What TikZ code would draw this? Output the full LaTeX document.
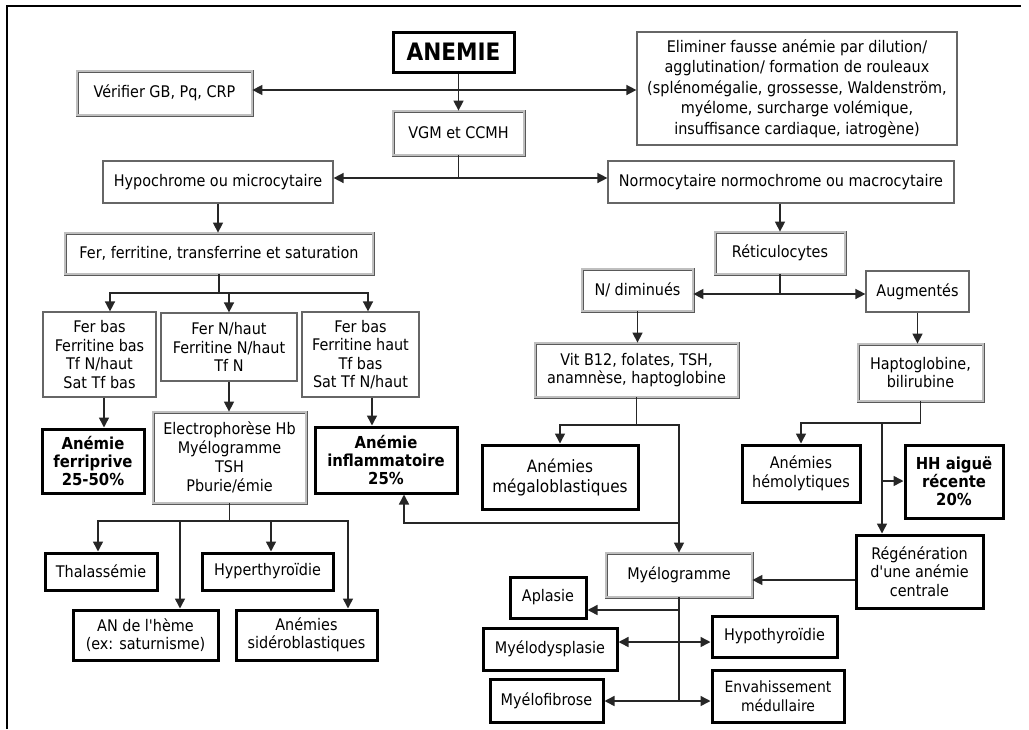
\documentclass[tikz,border=0pt]{standalone}
\usepackage{fontspec}
\setmainfont{DejaVu Sans Condensed}[Ligatures=TeXOff]
\usetikzlibrary{arrows.meta}

\begin{document}
\begin{tikzpicture}[x=1pt, y=-1pt,
    base/.style={font=\fontsize{16}{18.5}\selectfont, text=black, align=center, inner sep=2pt, fill=white},
    plain/.style={base, draw=black!60, line width=1.2pt},
    dbl/.style={base, draw=black!65, line width=0.8pt, double=black!25, double distance=1.4pt},
    heavy/.style={base, draw=black, line width=3pt},
    bf/.style={font=\fontsize{16.5}{18}\selectfont\bfseries},
    arr/.style={-{Triangle[length=10pt,width=10pt]}, line width=1.5pt, draw=black!85},
    link/.style={line width=1.5pt, draw=black!85}]
    \useasboundingbox (0,0) rectangle (1029,729);
    \draw[line width=1.5pt] (7,729) -- (7,6) -- (1021,6);
		% top
		\node [heavy, font=\fontsize{24}{26}\selectfont\bfseries, minimum width=121, minimum height=40] (anemie) at (453.5,52) {ANEMIE};
		\node [dbl, minimum width=175, minimum height=44] (verif) at (164.5,93) {Vérifier GB, Pq, CRP};
		\node [plain, minimum width=320, minimum height=113, font=\fontsize{16}{20.5}\selectfont] (elim) at (797,88.5) {Eliminer fausse anémie par dilution/\\agglutination/ formation de rouleaux\\(splénomégalie, grossesse, Waldenström,\\myélome, surcharge volémique,\\insuffisance cardiaque, iatrogène)};
		\node [dbl, minimum width=131, minimum height=44] (vgm) at (458.5,133) {VGM et CCMH};
		\node [plain, minimum width=230, minimum height=42] (hypo) at (218,182) {Hypochrome ou microcytaire};
		\node [plain, minimum width=346, minimum height=42] (normo) at (781,182) {Normocytaire normochrome ou macrocytaire};
		% left branch
		\node [dbl, minimum width=308, minimum height=41] (fer) at (219,253.5) {Fer, ferritine, transferrine et saturation};
		\node [plain, minimum width=113, minimum height=85] (bil1) at (99.5,354.5) {Fer bas\\Ferritine bas\\Tf N/haut\\Sat Tf bas};
		\node [plain, minimum width=136, minimum height=68] (bil2) at (229,347) {Fer N/haut\\Ferritine N/haut\\Tf N};
		\node [plain, minimum width=117, minimum height=85] (bil3) at (360.5,354.5) {Fer bas\\Ferritine haut\\Tf bas\\Sat Tf N/haut};
		\node [heavy, bf, minimum width=102, minimum height=64] (ferri) at (93,461) {Anémie\\ferriprive\\25-50\%};
		\node [dbl, minimum width=153, minimum height=91, font=\fontsize{16}{19}\selectfont] (electro) at (229.5,457.5) {Electrophorèse Hb\\Myélogramme\\TSH\\Pburie/émie};
		\node [heavy, bf, minimum width=142, minimum height=66] (inflam) at (386,460) {Anémie\\inflammatoire\\25\%};
		\node [heavy, minimum width=112, minimum height=37] (thal) at (101,571.5) {Thalassémie};
		\node [heavy, minimum width=131, minimum height=37] (hyper) at (267.5,571.5) {Hyperthyroïdie};
		\node [heavy, minimum width=145, minimum height=50] (heme) at (145.5,635) {AN de l'hème\\(ex: saturnisme)};
		\node [heavy, minimum width=141, minimum height=50] (sidero) at (306.5,635) {Anémies\\sidéroblastiques};
		% right branch
		\node [dbl, minimum width=130, minimum height=42] (retic) at (780,253) {Réticulocytes};
		\node [dbl, minimum width=111, minimum height=42] (ndim) at (637.5,290) {N/ diminués};
		\node [plain, minimum width=103, minimum height=41] (augm) at (917.5,291.5) {Augmentés};
		\node [dbl, minimum width=203, minimum height=54] (vitb) at (636.5,370) {Vit B12, folates, TSH,\\anamnèse, haptoglobine};
		\node [dbl, minimum width=125, minimum height=57] (hapto) at (920.5,372.5) {Haptoglobine,\\bilirubine};
		\node [heavy, minimum width=156, minimum height=64, font=\fontsize{17}{20}\selectfont] (megalo) at (560,477) {Anémies\\mégaloblastiques};
		\node [heavy, minimum width=118, minimum height=57] (hemol) at (801,473.5) {Anémies\\hémolytiques};
		\node [heavy, bf, minimum width=98, minimum height=73] (hh) at (954,481.5) {HH aiguë\\récente\\20\%};
		\node [heavy, minimum width=127, minimum height=73] (regen) at (919.5,571.5) {Régénération\\d'une anémie\\centrale};
		\node [dbl, minimum width=146, minimum height=44] (myelo) at (679,575) {Myélogramme};
		\node [heavy, minimum width=76, minimum height=41] (aplasie) at (548,597.5) {Aplasie};
		\node [heavy, minimum width=134, minimum height=42] (dysp) at (550,649) {Myélodysplasie};
		\node [heavy, minimum width=125, minimum height=41] (hypot) at (774.5,636.5) {Hypothyroïdie};
		\node [heavy, minimum width=113, minimum height=43] (fibro) at (546.5,700.5) {Myélofibrose};
		\node [heavy, minimum width=132, minimum height=52, font=\fontsize{15.5}{18.5}\selectfont] (envah) at (778,696) {Envahissement\\médullaire};
		% junctions
		\coordinate (j1) at (458.5,90);
		\coordinate (j2) at (458.5,178);
		\coordinate (j3) at (219,293);
		\coordinate (j4) at (229.5,521);
		\coordinate (j5) at (780,294);
		\coordinate (j6) at (636.5,425);
		\coordinate (j7) at (679,523);
		\coordinate (j8) at (920.5,423);
		\coordinate (j9) at (882,481);
		\coordinate (j10) at (679,701);
		\coordinate (ka) at (679,610);
		\coordinate (kb) at (679,642);
		% connectors, top
		\draw [arr] (anemie.south -| vgm.north) to (vgm.north);
		\draw [arr] (j1) to (verif.east |- j1);
		\draw [arr] (j1) to (elim.west |- j1);
		\draw [link] (vgm.south) to (j2);
		\draw [arr] (j2) to (hypo.east |- j2);
		\draw [arr] (j2) to (normo.west |- j2);
		% connectors, left
		\draw [arr] (hypo.south) to (hypo.south |- fer.north);
		\draw [link] (fer.south) to (j3);
		\draw [arr] (j3) -| ([xshift=10.5pt]bil1.north);
		\draw [arr] (j3) -| (bil2.north);
		\draw [arr] (j3) -| ([xshift=7.5pt]bil3.north);
		\draw [arr] ([xshift=4.5pt]bil1.south) to ([xshift=4.5pt]bil1.south |- ferri.north);
		\draw [arr] (bil2.south) to (bil2.south |- electro.north);
		\draw [arr] ([xshift=11.5pt]bil3.south) to ([xshift=11.5pt]bil3.south |- inflam.north);
		\draw [link] (electro.south) to (j4);
		\draw [arr] (j4) -| ([xshift=-3pt]thal.north);
		\draw [arr] (j4) -| ([xshift=34.5pt]heme.north);
		\draw [arr] (j4) -| ([xshift=3.5pt]hyper.north);
		\draw [arr] (j4) -| ([xshift=41.5pt]sidero.north);
		% connectors, right
		\draw [arr] (retic.north |- normo.south) to (retic.north);
		\draw [link] (retic.south) to (j5);
		\draw [arr] (j5) to (ndim.east |- j5);
		\draw [arr] (j5) to (augm.west |- j5);
		\draw [arr] (ndim.south) to (ndim.south |- vitb.north);
		\draw [arr] (augm.south) to (augm.south |- hapto.north);
		\draw [link] (vitb.south) to (j6);
		\draw [arr] (j6) -| (megalo.north);
		\draw [arr] (j6) -| (myelo.north);
		\draw [arr] (j7) -| ([xshift=18pt]inflam.south);
		\draw [link] (hapto.south) to (j8);
		\draw [arr] (j8) -| (hemol.north);
		\draw [arr] (j8) -| ([xshift=-37.5pt]regen.north);
		\draw [arr] (j9) to (hh.west |- j9);
		\draw [arr] ([yshift=-8.5pt]regen.west) to ([yshift=-8.5pt]regen.west -| myelo.east);
		\draw [link] (myelo.south) to (j10);
		\draw [arr] (ka) to (aplasie.east |- ka);
		\draw [arr] (kb) to (dysp.east |- kb);
		\draw [arr] (kb) to (hypot.west |- kb);
		\draw [arr] (j10) to (fibro.east |- j10);
		\draw [arr] (j10) to (envah.west |- j10);
\end{tikzpicture}
\end{document}
